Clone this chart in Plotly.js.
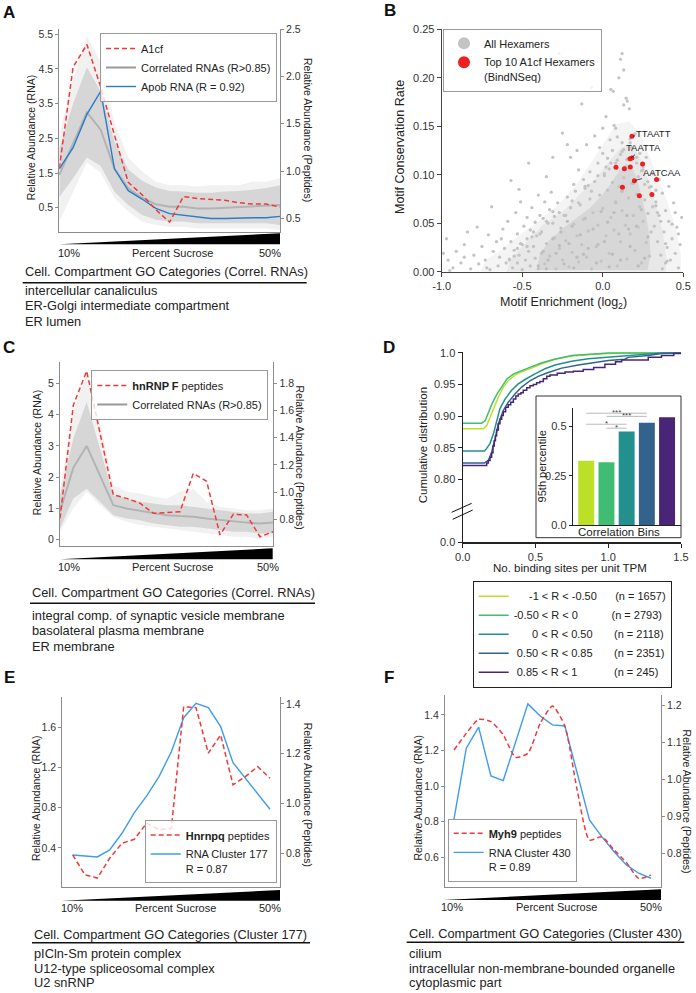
<!DOCTYPE html>
<html><head><meta charset="utf-8">
<script src="https://cdn.plot.ly/plotly-3.0.1.min.js"></script>
<style>html,body{margin:0;padding:0;background:#fff}#chart{width:696px;height:993px}</style>
</head><body><div id="chart"></div>
<script>
// ===================== DATA =====================
const fractionNo = [1,2,3,4,5,6,7,8,9,10,11,12,13,14,15,16,17];

// Panel A
const a1cfPeptides = [1.03,2.10,2.34,1.89,1.38,0.88,0.75,0.59,0.46,0.73,0.71,0.70,0.69,0.665,0.65,0.65,0.62];
const apobRNA = [1.62,2.23,3.19,3.85,1.62,0.99,0.75,0.48,0.33,0.29,0.24,0.19,0.19,0.21,0.21,0.21,0.25];
const corrA_outerHi = [2.60,4.20,5.45,4.70,2.95,1.95,1.55,1.25,1.15,1.15,1.11,1.15,1.15,1.15,1.25,1.25,1.35];
const corrA_coreHi  = [2.20,3.50,4.55,3.85,2.40,1.60,1.28,1.08,0.98,0.97,0.93,0.93,0.97,0.98,1.02,1.07,1.15];
const corrA_coreLo  = [0.80,1.35,1.95,1.70,0.96,0.58,0.29,0.15,0.10,0.10,0.05,0.05,0.05,0.05,0.05,0.05,0.00];
const corrA_outerLo = [0.10,0.96,1.80,1.50,0.77,0.39,0.10,0.00,-0.05,-0.05,-0.10,-0.10,-0.10,-0.10,-0.10,-0.10,-0.14];
const corrA_typical = [1.45,2.35,3.25,2.75,1.62,1.06,0.78,0.60,0.53,0.53,0.48,0.48,0.50,0.50,0.53,0.55,0.58];

// Panel B
const hexFarLeftX = [-0.99,-0.97,-0.96,-0.95,-0.93,-0.91,-0.88,-0.86,-0.86,-0.84,-0.82,-0.80,-0.78,-0.77,-0.75,-0.73,-0.72,-0.71,-0.70,-0.69,-0.68,-0.66,-0.65,-0.64,-0.63,-0.62,-0.61,-0.60];
const hexFarLeftY = [0.019,0.034,0.012,0.001,0.004,0.021,0.009,0.028,0.015,0.041,0.003,0.017,0.046,0.008,0.026,0.012,0.004,0.038,0.002,0.067,0.021,0.031,0.006,0.015,0.034,0.044,0.024,0.009];
const hexLeftX = [-0.59,-0.58,-0.57,-0.57,-0.56,-0.55,-0.54,-0.53,-0.53,-0.52,-0.52,-0.51,-0.50,-0.50,-0.49,-0.48,-0.47,-0.47,-0.46,-0.46,-0.45,-0.45,-0.44,-0.43,-0.42,-0.42,-0.41,-0.40,-0.40,-0.39,-0.38,-0.36,-0.35,-0.33,-0.31,-0.27,-0.25];
const hexLeftY = [0.052,0.013,0.031,0.094,0.004,0.022,0.061,0.009,0.039,0.017,0.085,0.072,0.028,0.002,0.047,0.012,0.034,0.056,0.021,0.112,0.006,0.043,0.066,0.026,0.014,0.051,0.037,0.079,0.003,0.058,0.019,0.072,0.098,0.064,0.118,0.225,0.143];
const hexUpperX = [0.12,0.11,0.10,0.13,-0.07,0.05,0.065,0.145,0.152,-0.13,0.13,0.165,0.02,0.0,0.07,0.08,-0.16,0.045,-0.2,-0.1,-0.05,0.09,0.12,0.2,0.23,0.18,0.0,-0.03,0.03,0.06,0.11,0.15,0.21,0.25,0.27,-0.15,-0.08,0.04,-0.12,0.28,0.31,0.3,-0.22,-0.18,0.17,-0.02,0.08,0.14,0.22,0.26];
const hexUpperY = [0.225,0.219,0.200,0.208,0.190,0.188,0.186,0.179,0.176,0.173,0.172,0.168,0.160,0.148,0.151,0.148,0.125,0.136,0.118,0.131,0.140,0.139,0.133,0.142,0.122,0.128,0.122,0.112,0.117,0.125,0.121,0.116,0.112,0.105,0.118,0.105,0.103,0.106,0.095,0.093,0.101,0.088,0.131,0.090,0.137,0.128,0.112,0.108,0.098,0.090];
const hexRightX = [0.33,0.35,0.37,0.38,0.39,0.40,0.41,0.42,0.43,0.44,0.45,0.46,0.47,0.48,0.49,0.36,0.34,0.32,0.45,0.41,0.37,0.43,0.39,0.47,0.35,0.33];
const hexRightY = [0.072,0.058,0.081,0.041,0.063,0.025,0.052,0.012,0.034,0.071,0.019,0.046,0.004,0.028,0.056,0.017,0.031,0.047,0.061,0.088,0.003,0.049,0.009,0.039,0.095,0.084];
const hexCoreX = [-0.38,-0.36,-0.35,-0.34,-0.33,-0.31,-0.30,-0.29,-0.28,-0.27,-0.26,-0.25,-0.24,-0.23,-0.22,-0.21,-0.20,-0.19,-0.18,-0.17,-0.16,-0.15,-0.14,-0.13,-0.12,-0.11,-0.10,-0.09,-0.08,-0.07,-0.06,-0.05,-0.04,-0.03,-0.02,-0.01,0.00,0.01,0.02,0.03,0.04,0.05,0.06,0.07,0.08,0.09,0.10,0.11,0.12,0.13,0.14,0.15,0.16,0.17,0.18,0.19,0.20,0.21,0.22,0.23,0.24,0.25,0.26,0.27,0.28,0.29,0.30,0.31,-0.37,-0.32];
const hexCoreY = [0.041,0.008,0.029,0.050,0.016,0.062,0.035,0.003,0.071,0.024,0.045,0.012,0.058,0.032,0.077,0.005,0.066,0.020,0.049,0.083,0.037,0.010,0.069,0.028,0.054,0.088,0.015,0.042,0.075,0.003,0.061,0.093,0.026,0.048,0.079,0.011,0.065,0.099,0.037,0.084,0.019,0.056,0.092,0.043,0.071,0.006,0.088,0.031,0.063,0.097,0.048,0.013,0.076,0.039,0.091,0.058,0.022,0.080,0.046,0.067,0.009,0.052,0.074,0.030,0.060,0.016,0.041,0.067,0.055,0.082];
const hexEdgeX = [-0.58,-0.55,-0.51,-0.47,-0.43,-0.39,-0.35,-0.31,-0.27,-0.23,-0.19,-0.15,-0.11,-0.07,-0.03,0.01,0.05,0.09,0.13,0.17,0.21,0.25,0.29,0.33,0.36,0.39,-0.53,-0.44,-0.30,-0.20,-0.09,0.02,0.12,0.24,0.34,0.40];
const hexEdgeY = [0.012,0.016,0.029,0.026,0.041,0.039,0.052,0.050,0.061,0.058,0.073,0.071,0.086,0.083,0.099,0.101,0.112,0.115,0.126,0.133,0.118,0.108,0.087,0.068,0.052,0.029,0.024,0.036,0.057,0.066,0.089,0.108,0.124,0.104,0.061,0.011];
const hexDenseX = [-0.40,-0.37,-0.34,-0.31,-0.29,-0.26,-0.24,-0.21,-0.19,-0.16,-0.14,-0.11,-0.09,-0.06,-0.04,-0.01,0.01,0.03,0.06,0.08,0.10,0.12,0.15,0.17,0.19,0.21,0.24,0.26,0.28,-0.35,-0.27,-0.18,-0.12,-0.03,0.04,0.11,0.16,0.22,-0.22,0.07];
const hexDenseY = [0.006,0.021,0.012,0.034,0.019,0.041,0.008,0.029,0.047,0.015,0.038,0.055,0.024,0.044,0.009,0.062,0.031,0.051,0.018,0.072,0.039,0.083,0.058,0.026,0.091,0.047,0.064,0.014,0.036,0.003,0.027,0.004,0.018,0.028,0.005,0.012,0.044,0.006,0.052,0.061];
const hexOuterRegionX = [-0.763,-0.722,-0.619,-0.515,-0.392,-0.268,-0.165,-0.082,0.0,0.082,0.165,0.237,0.309,0.392,0.454,0.485,0.485];
const hexOuterRegionY = [0,0.012,0.024,0.038,0.053,0.0707,0.0897,0.110,0.131,0.152,0.155,0.141,0.110,0.0759,0.0448,0.0172,0];
const hexMidRegionX = [-0.598,-0.567,-0.474,-0.371,-0.247,-0.144,-0.041,0.041,0.113,0.175,0.227,0.278,0.330,0.371,0.392,0.392];
const hexMidRegionY = [0,0.0138,0.031,0.0483,0.062,0.0793,0.0966,0.114,0.128,0.131,0.119,0.0966,0.069,0.0414,0.0172,0];
const hexCoreRegionX = [-0.412,-0.392,-0.330,-0.247,-0.165,-0.082,-0.021,0.031,0.072,0.113,0.148,0.181,0.210,0.239,0.268,0.289,0.297,0.278];
const hexCoreRegionY = [0.0017,0.0172,0.0328,0.0448,0.0552,0.0655,0.0759,0.0862,0.0966,0.1062,0.111,0.1086,0.0966,0.0793,0.0586,0.0379,0.0172,0.0017];
const top10X = [0.181,0.169,0.181,0.082,0.134,0.171,0.247,0.196,0.334,0.122,0.227,0.305];
const top10Y = [0.1397,0.1166,0.1172,0.1076,0.1062,0.1079,0.111,0.0938,0.0952,0.0872,0.0783,0.0797];
const motifLabels = ['TTAATT','TAATTA','AATCAA'];
const motifX = [0.181,0.169,0.196];
const motifY = [0.1397,0.1166,0.0938];

// Panel C
const hnrnpfPeptides = [0.807,1.64,1.89,1.43,0.98,0.954,0.918,0.844,0.849,0.856,1.138,1.08,0.685,0.837,0.832,0.672,0.709];
const corrC_outerHi = [1.63,4.09,5.27,3.77,1.74,1.53,1.47,1.37,1.31,1.53,1.63,1.21,1.05,0.99,0.94,0.94,0.99];
const corrC_coreHi  = [1.42,3.24,4.41,2.92,1.42,1.31,1.21,1.15,1.10,1.10,1.05,0.99,0.94,0.89,0.83,0.83,0.89];
const corrC_coreLo  = [0.35,1.31,1.63,1.21,0.78,0.67,0.62,0.51,0.46,0.41,0.41,0.35,0.30,0.25,0.25,0.19,0.19];
const corrC_outerLo = [0.25,0.99,1.53,1.10,0.72,0.57,0.46,0.41,0.35,0.30,0.25,0.19,0.14,0.09,0.09,0.03,0.09];
const corrC_typical = [0.90,2.30,3.00,2.05,1.10,0.99,0.92,0.83,0.78,0.75,0.73,0.67,0.62,0.57,0.54,0.51,0.54];

// Panel D
const binLabels = ['-1 < R < -0.50','-0.50 < R < 0','0 < R < 0.50','0.50 < R < 0.85','0.85 < R < 1'];
const binN = [1657,2793,2118,2351,245];
const cdfX1 = [0,0.142,0.165,0.188,0.217,0.245,0.279,0.313,0.359,0.405,0.473,0.542,0.634,0.748,0.863,1.0,1.206,1.5];
const cdfY1 = [0.880,0.880,0.885,0.898,0.914,0.930,0.946,0.956,0.965,0.970,0.976,0.983,0.990,0.995,0.997,0.999,1.0,1.0];
const cdfX2 = [0,0.13,0.155,0.178,0.2,0.235,0.27,0.305,0.35,0.4,0.47,0.54,0.63,0.75,0.86,1.0,1.5];
const cdfY2 = [0.889,0.889,0.893,0.906,0.919,0.935,0.948,0.959,0.967,0.972,0.978,0.984,0.990,0.996,0.998,1.0,1.0];
const cdfX3 = [0,0.15,0.165,0.188,0.211,0.233,0.256,0.291,0.336,0.382,0.428,0.497,0.565,0.634,0.748,0.863,0.977,1.092,1.229,1.366,1.5];
const cdfY3 = [0.845,0.845,0.849,0.857,0.872,0.893,0.912,0.927,0.941,0.951,0.958,0.967,0.975,0.981,0.987,0.991,0.993,0.996,0.998,1.0,1.0];
const cdfX4 = [0,0.15,0.176,0.199,0.222,0.245,0.279,0.313,0.359,0.405,0.462,0.519,0.588,0.680,0.794,0.908,1.0,1.114,1.137,1.275,1.366,1.5];
const cdfY4 = [0.826,0.826,0.830,0.843,0.864,0.888,0.909,0.922,0.935,0.946,0.956,0.963,0.969,0.976,0.981,0.985,0.988,0.990,0.993,0.996,0.999,1.0];
const cdfX5 = [0,0.165,0.176,0.188,0.199,0.208,0.217,0.225,0.233,0.245,0.256,0.268,0.279,0.295,0.313,0.33,0.348,0.365,0.382,0.4,0.416,0.44,0.462,0.485,0.508,0.53,0.554,0.578,0.6,0.65,0.703,0.76,0.828,0.9,0.977,1.05,1.092,1.137,1.275,1.366,1.45,1.5];
const cdfY5 = [0.822,0.826,0.830,0.835,0.842,0.853,0.861,0.869,0.878,0.888,0.895,0.901,0.907,0.914,0.918,0.922,0.927,0.932,0.935,0.937,0.941,0.945,0.948,0.950,0.953,0.955,0.959,0.963,0.965,0.968,0.970,0.971,0.974,0.977,0.982,0.986,0.989,0.989,0.993,0.996,0.999,1.0];
const binIndex = [0,1,2,3,4];
const pct95 = [0.327,0.319,0.475,0.520,0.548];
const sigFrom = [0,1,0,1];
const sigTo = [3,3,2,2];
const sigStars = ['***','***','*','*'];

// Panel E
const hnrnpqPeptides = [0.793,0.713,0.700,0.780,0.840,0.856,0.921,0.894,0.900,1.389,1.385,1.202,1.275,1.075,1.108,1.148,1.101];
const cluster177RNA = [0.330,0.323,0.311,0.380,0.546,0.751,0.917,1.109,1.357,1.695,1.838,1.795,1.606,1.248,1.093,0.937,0.785];

// Panel F
const myh9Peptides = [1.080,1.125,1.163,1.157,1.121,1.060,1.071,1.152,1.199,1.145,0.972,0.836,0.845,0.809,0.775,0.732,0.741];
const cluster430RNA = [0.814,1.213,1.331,1.057,1.031,1.244,1.462,1.394,1.344,1.338,1.072,0.810,0.716,0.631,0.557,0.510,0.482];

// GO text
const goTitleA = 'Cell. Compartment GO Categories (Correl. RNAs)';
const goTermsA = ['intercellular canaliculus','ER-Golgi intermediate compartment','ER lumen'];
const goTitleC = 'Cell. Compartment GO Categories (Correl. RNAs)';
const goTermsC = ['integral comp. of synaptic vesicle membrane','basolateral plasma membrane','ER membrane'];
const goTitleE = 'Cell. Compartment GO Categories (Cluster 177)';
const goTermsE = ['pICln-Sm protein complex','U12-type spliceosomal complex','U2 snRNP'];
const goTitleF = 'Cell. Compartment GO Categories (Cluster 430)';
const goTermsF = ['cilium','intracellular non-membrane-bounded organelle','cytoplasmic part'];

// ===================== BUILD =====================
const W = 696, H = 993;
const X = p => p / W;
const Y = p => 1 - p / H;
const FONT = '"Liberation Sans", Arial, Helvetica, sans-serif';
const RED = '#f03a3a';
const redLine = {color: RED, width: 1.5, dash: '5px,3px'};
const esc = s => s.replace(/</g, '&lt;').replace(/>/g, '&gt;');

const traces = [];
function addBand(xs, hi, lo, color, xa, ya) {
  traces.push({type:'scatter', mode:'lines', x: xs.concat(xs.slice().reverse()), y: hi.concat(lo.slice().reverse()),
    fill:'toself', fillcolor: color, line:{width:0, color: color}, hoverinfo:'skip', showlegend:false, xaxis:xa, yaxis:ya});
}
function addRegion(xs, ys, color, xa, ya) {
  traces.push({type:'scatter', mode:'lines', x: xs, y: ys, fill:'toself', fillcolor: color,
    line:{width:0, color: color}, xaxis: xa, yaxis: ya, showlegend:false, hoverinfo:'skip'});
}
const CORE = 'rgba(196,196,196,0.6)';

// A
addBand(fractionNo, corrA_outerHi, corrA_outerLo, '#f1f1f1', 'x', 'y');
traces.push({type:'scatter', mode:'lines', x: fractionNo, y: corrA_typical, name: esc('Correlated RNAs (R>0.85)'),
  line:{color:'#999999', width:2}, xaxis:'x', yaxis:'y', legend:'legend', legendrank:2, hoverinfo:'skip'});
addBand(fractionNo, corrA_coreHi, corrA_coreLo, CORE, 'x', 'y');
traces.push({type:'scatter', mode:'lines', x: fractionNo, y: apobRNA, name:'Apob RNA (R = 0.92)',
  line:{color:'#2b7cc8', width:1.4}, xaxis:'x', yaxis:'y', legend:'legend', legendrank:3, hoverinfo:'skip'});
traces.push({type:'scatter', mode:'lines', x: fractionNo, y: a1cfPeptides, name:'A1cf',
  line: redLine, xaxis:'x', yaxis:'y2', legend:'legend', legendrank:1, hoverinfo:'skip'});

// B
addRegion(hexOuterRegionX, hexOuterRegionY, '#f4f4f4', 'x2', 'y3');
addRegion(hexMidRegionX, hexMidRegionY, '#e8e8e8', 'x2', 'y3');
addRegion(hexCoreRegionX, hexCoreRegionY, '#d7d7d7', 'x2', 'y3');
traces.push({type:'scatter', mode:'markers', x: hexDenseX, y: hexDenseY, marker:{size:3.3, color:'#bdbdbd'},
  xaxis:'x2', yaxis:'y3', showlegend:false, hoverinfo:'skip'});
const hexX = [].concat(hexFarLeftX, hexLeftX, hexUpperX, hexRightX, hexCoreX, hexEdgeX);
const hexY = [].concat(hexFarLeftY, hexLeftY, hexUpperY, hexRightY, hexCoreY, hexEdgeY);
traces.push({type:'scatter', mode:'markers', x: hexX, y: hexY, name:'All Hexamers',
  marker:{size:3.3, color:'#c4c4c4'}, xaxis:'x2', yaxis:'y3', legend:'legend2', legendrank:1, hoverinfo:'skip'});
traces.push({type:'scatter', mode:'markers', x: top10X, y: top10Y, name:'Top 10 A1cf Hexamers<br>(BindNSeq)',
  marker:{size:5, color:'#ee1f1f'}, xaxis:'x2', yaxis:'y3', legend:'legend2', legendrank:2, hoverinfo:'skip'});

// C
addBand(fractionNo, corrC_outerHi, corrC_outerLo, '#f1f1f1', 'x3', 'y4');
traces.push({type:'scatter', mode:'lines', x: fractionNo, y: corrC_typical, name: esc('Correlated RNAs (R>0.85)'),
  line:{color:'#999999', width:2}, xaxis:'x3', yaxis:'y4', legend:'legend3', legendrank:2, hoverinfo:'skip'});
addBand(fractionNo, corrC_coreHi, corrC_coreLo, CORE, 'x3', 'y4');
traces.push({type:'scatter', mode:'lines', x: fractionNo, y: hnrnpfPeptides, name:'<b>hnRNP F</b> peptides',
  line: redLine, xaxis:'x3', yaxis:'y5', legend:'legend3', legendrank:1, hoverinfo:'skip'});

// D
const binColors = ['#bcdf27','#40bd72','#22908c','#33628d','#482576'];
const cdfXs = [cdfX1, cdfX2, cdfX3, cdfX4, cdfX5];
const cdfYs = [cdfY1, cdfY2, cdfY3, cdfY4, cdfY5];
const padL = [5,0,6,1,1], padM = [6,11,7,7,12];
const nb = n => '\u00a0'.repeat(n);
for (let i = 0; i < 5; i++) {
  traces.push({type:'scatter', mode:'lines', x: cdfXs[i], y: cdfYs[i],
    name: nb(padL[i]) + esc(binLabels[i]) + nb(padM[i]) + '(n = ' + binN[i] + ')',
    line:{color: binColors[i], width:1.5, shape: i === 4 ? 'hv' : 'linear'},
    xaxis:'x4', yaxis:'y6', legend:'legend4', legendrank: i + 1, hoverinfo:'skip'});
}
traces.push({type:'bar', x: binIndex, y: pct95, width:0.79, marker:{color: binColors, line:{width:0}},
  xaxis:'x5', yaxis:'y7', showlegend:false, hoverinfo:'skip'});

// E
traces.push({type:'scatter', mode:'lines', x: fractionNo, y: cluster177RNA, name:'RNA Cluster 177<br>R = 0.87',
  line:{color:'#3d9cf0', width:1.4}, xaxis:'x6', yaxis:'y8', legend:'legend5', legendrank:2, hoverinfo:'skip'});
traces.push({type:'scatter', mode:'lines', x: fractionNo, y: hnrnpqPeptides, name:'<b>Hnrnpq</b> peptides',
  line: redLine, xaxis:'x6', yaxis:'y9', legend:'legend5', legendrank:1, hoverinfo:'skip'});

// F
traces.push({type:'scatter', mode:'lines', x: fractionNo, y: cluster430RNA, name:'RNA Cluster 430<br>R = 0.89',
  line:{color:'#3d9cf0', width:1.4}, xaxis:'x7', yaxis:'y10', legend:'legend6', legendrank:2, hoverinfo:'skip'});
traces.push({type:'scatter', mode:'lines', x: fractionNo, y: myh9Peptides, name:'<b>Myh9</b> peptides',
  line: Object.assign({}, redLine, {shape:'spline', smoothing:0.6}), xaxis:'x7', yaxis:'y11', legend:'legend6', legendrank:1, hoverinfo:'skip'});

// ---------- axes ----------
const GRAY = '#8c8c8c', DARK = '#222';
function ax(o) {
  return Object.assign({showgrid:false, zeroline:false, showline:true, linewidth:1, linecolor:GRAY,
    ticks:'outside', ticklen:3, tickwidth:1, tickcolor:GRAY, layer:'above traces',
    tickfont:{family:FONT, size:10.5, color:'#333'}, fixedrange:true}, o);
}
const noTicks = {ticks:'', showticklabels:false};
const fmt = (v, d) => v.map(t => t.toFixed(d));

const layout = {
  width: W, height: H, margin:{l:0, r:0, t:0, b:0},
  paper_bgcolor:'#ffffff', plot_bgcolor:'rgba(0,0,0,0)',
  font:{family: FONT, size:11, color:'#222'},
  showlegend: true,
  xaxis: ax(Object.assign({domain:[X(59.3), X(280)], range:[1,17], anchor:'y'}, noTicks)),
  yaxis: ax({domain:[Y(232), Y(29)], range:[-0.2,5.65], anchor:'x', tickvals:[0.5,1.5,2.5,3.5,4.5,5.5], ticktext: fmt([0.5,1.5,2.5,3.5,4.5,5.5],1)}),
  yaxis2: ax({overlaying:'y', side:'right', anchor:'x', range:[0.355,2.503], tickvals:[0.5,1,1.5,2,2.5], ticktext: fmt([0.5,1,1.5,2,2.5],1)}),
  xaxis2: ax({domain:[X(441.7), X(683.3)], range:[-1,0.5], anchor:'y3', linecolor:'#444', tickcolor:'#444', ticklen:4,
    tickvals:[-1,-0.5,0,0.5], ticktext:['-1.0','-0.5','0.0','0.5'], tickfont:{family:FONT, size:11, color:'#333'}}),
  yaxis3: ax({domain:[Y(271.7), Y(29.3)], range:[0,0.25], anchor:'x2', linecolor:'#444', tickcolor:'#444', ticklen:4,
    tickvals:[0,0.05,0.1,0.15,0.2,0.25], ticktext: fmt([0,0.05,0.1,0.15,0.2,0.25],2), tickfont:{family:FONT, size:11, color:'#333'}}),
  xaxis3: ax(Object.assign({domain:[X(60), X(273.3)], range:[1,17], anchor:'y4'}, noTicks)),
  yaxis4: ax({domain:[Y(545.7), Y(361.7)], range:[-0.2,5.7], anchor:'x3', tickvals:[0,1,2,3,4,5]}),
  yaxis5: ax({overlaying:'y4', side:'right', anchor:'x3', range:[0.606,1.959], tickvals:[0.8,1.0,1.2,1.4,1.6,1.8], ticktext: fmt([0.8,1.0,1.2,1.4,1.6,1.8],1)}),
  xaxis4: ax({domain:[X(462.7), X(681)], range:[0,1.5], anchor:'y6', linecolor:DARK, tickcolor:DARK, linewidth:1.2, ticklen:4,
    tickvals:[0,0.5,1,1.5], ticktext:['0.0','0.5','1.0','1.5'], tickfont:{family:FONT, size:11, color:'#333'}}),
  yaxis6: ax({domain:[Y(542.3), Y(352)], range:[0.7005,1.0015], anchor:'x4', linecolor:DARK, tickcolor:DARK, linewidth:1.2, ticklen:4,
    tickvals:[0.7008,0.8,0.85,0.9,0.95,1.0], ticktext:['0.0','0.80','0.85','0.90','0.95','1.0'], tickfont:{family:FONT, size:11, color:'#333'}}),
  xaxis5: ax(Object.assign({domain:[X(572.7), X(681)], range:[-0.67,4.69], anchor:'y7', linecolor:DARK}, noTicks)),
  yaxis7: ax({domain:[Y(525), Y(408.3)], range:[0,0.593], anchor:'x5', linecolor:DARK, tickcolor:DARK, ticklen:3,
    tickvals:[0,0.25,0.5], ticktext:['0.0','0.25','0.5'], tickfont:{family:FONT, size:11, color:'#333'}}),
  xaxis6: ax(Object.assign({domain:[X(62.3), X(280)], range:[0.16,17.81], anchor:'y8'}, noTicks)),
  yaxis8: ax({domain:[Y(887.3), Y(696.7)], range:[0.009,1.904], anchor:'x6', tickvals:[0.4,0.8,1.2,1.6], ticktext: fmt([0.4,0.8,1.2,1.6],1)}),
  yaxis9: ax({overlaying:'y8', side:'right', anchor:'x6', range:[0.663,1.429], tickvals:[0.8,1.0,1.2,1.4], ticktext: fmt([0.8,1.0,1.2,1.4],1)}),
  xaxis7: ax(Object.assign({domain:[X(445), X(661)], range:[0.27,17.81], anchor:'y10'}, noTicks)),
  yaxis10: ax({domain:[Y(887.3), Y(695)], range:[0.431,1.512], anchor:'x7', tickvals:[0.6,0.8,1.0,1.2,1.4], ticktext: fmt([0.6,0.8,1.0,1.2,1.4],1)}),
  yaxis11: ax({overlaying:'y10', side:'right', anchor:'x7', range:[0.708,1.229], tickvals:[0.8,0.9,1.0,1.1,1.2], ticktext: fmt([0.8,0.9,1.0,1.1,1.2],1)}),
};

// ---------- legends ----------
function leg(o) {
  return Object.assign({bgcolor:'rgba(255,255,255,0.8)', bordercolor:'#999', borderwidth:1,
    font:{family:FONT, size:11, color:'#222'}, tracegroupgap:0, itemwidth:30, traceorder:'normal'}, o);
}
layout.legend  = leg({x:X(277), y:Y(33), xanchor:'right', yanchor:'top'});
layout.legend2 = leg({x:X(443), y:Y(28.5), xanchor:'left', yanchor:'top', itemsizing:'constant', valign:'top'});
layout.legend3 = leg({x:X(268.3), y:Y(370), xanchor:'right', yanchor:'top'});
layout.legend4 = leg({x:X(472.7), y:Y(580.7), xanchor:'left', yanchor:'top', bordercolor:'#222'});
layout.legend5 = leg({x:X(276.7), y:Y(883.3), xanchor:'right', yanchor:'bottom', valign:'top'});
layout.legend6 = leg({x:X(447.7), y:Y(881.7), xanchor:'left', yanchor:'bottom', valign:'top'});

// ---------- annotations ----------
const annotations = [];
function txt(text, x, y, o) {
  o = o || {};
  annotations.push({text: text, xref:'paper', yref:'paper', x: X(x), y: Y(y), showarrow:false,
    xanchor: o.xanchor || 'center', yanchor: o.yanchor || 'middle', textangle: o.angle || 0,
    font:{family:FONT, size: o.size || 11, color: o.color || '#222'}});
}
[['A',9,12.5],['B',390,11],['C',9,347.5],['D',389,347.5],['E',9,677.5],['F',389,677.5]].forEach(p =>
  txt('<b>' + p[0] + '</b>', p[1], p[2], {size:17, color:'#111'}));
txt('Relative Abundance (RNA)', 31.7, 137.5, {angle:-90, size:10.5});
txt('Relative Abundance (Peptides)', 308, 130, {angle:90, size:10.5});
txt('Motif Conservation Rate', 399.3, 146.7, {angle:-90, size:12.5});
txt('Motif Enrichment (log<sub>2</sub>)', 563.3, 303.3, {size:12.5});
txt('Relative Abundance (RNA)', 36.7, 452.5, {angle:-90, size:10.5});
txt('Relative Abundance (Peptides)', 300, 457.5, {angle:90, size:10.5});
txt('Cumulative distribution', 423.3, 445, {angle:-90, size:11.5});
txt('No. binding sites per unit TPM', 570, 568.3, {size:11.5});
txt('95th percentile', 541.7, 466.7, {angle:-90, size:11});
txt('Correlation Bins', 619.3, 531.7, {size:11.5});
txt('Relative Abundance (RNA)', 36.7, 798.3, {angle:-90, size:10.5});
txt('Relative Abundance (Peptides)', 308.3, 795, {angle:90, size:10.5});
txt('Relative Abundance (RNA)', 418.3, 798.3, {angle:-90, size:10.5});
txt('Relative Abundance (Peptides)', 687.3, 801.7, {angle:90, size:10.5});
[[69,172,270,253.3],[69,172.7,267.5,566.7],[71.7,175,270,907.7],[452,556.3,650.8,906.7]].forEach(r => {
  txt('10%', r[0], r[3], {size:11}); txt('Percent Sucrose', r[1], r[3], {size:11}); txt('50%', r[2], r[3], {size:11});
});
const goBlocks = [
  {title: goTitleA, terms: goTermsA, left:22.7, right:306.7, ty:271.7, ly:282.7, rows:[290,305.5,321]},
  {title: goTitleC, terms: goTermsC, left:30, right:315, ty:592.7, ly:603.3, rows:[615,630.7,646]},
  {title: goTitleE, terms: goTermsE, left:32, right:310, ty:934.3, ly:942.7, rows:[953.3,968.3,982.7]},
  {title: goTitleF, terms: goTermsF, left:406.7, right:684.3, ty:933.3, ly:942.3, rows:[953,968,982]},
];
const shapes = [];
goBlocks.forEach(b => {
  txt(b.title, b.left, b.ty, {xanchor:'left', size:12.8});
  b.terms.forEach((t, i) => txt(t, b.left, b.rows[i], {xanchor:'left', size:12.8}));
  shapes.push({type:'line', xref:'paper', yref:'paper', x0:X(b.left), x1:X(b.right), y0:Y(b.ly), y1:Y(b.ly), line:{color:'#111', width:1.6}});
});
[[59.3,280,233.3,244.3],[60,272.7,548.3,559.3],[61.7,280,890,900.7],[443.3,661,889.3,900]].forEach(w => {
  shapes.push({type:'path', xref:'paper', yref:'paper',
    path:'M' + X(w[0]) + ',' + Y(w[3]) + ' L' + X(w[1]) + ',' + Y(w[2]) + ' L' + X(w[1]) + ',' + Y(w[3]) + ' Z',
    fillcolor:'#000', line:{width:0}});
});
shapes.push({type:'rect', xref:'paper', yref:'paper', x0:X(536), x1:X(681), y0:Y(537.7), y1:Y(396), line:{color:'#333', width:1}, fillcolor:'rgba(0,0,0,0)'});
shapes.push({type:'line', xref:'paper', yref:'paper', x0:X(451.7), y0:Y(512.3), x1:X(471.7), y1:Y(503.3), line:{color:'#111', width:1}});
shapes.push({type:'line', xref:'paper', yref:'paper', x0:X(452.7), y0:Y(519.3), x1:X(472.7), y1:Y(510), line:{color:'#111', width:1}});
const sigLevel = [0.568,0.552,0.512,0.492];
for (let i = 0; i < sigFrom.length; i++) {
  shapes.push({type:'line', xref:'x5', yref:'y7', x0: sigFrom[i], x1: sigTo[i], y0: sigLevel[i], y1: sigLevel[i], line:{color:'#aaa', width:0.8}});
  annotations.push({text: sigStars[i], xref:'x5', yref:'y7', x:(sigFrom[i] + sigTo[i]) / 2, y: sigLevel[i], showarrow:false,
    yanchor:'middle', yshift:1, font:{family:FONT, size:8, color:'#444'}});
}
const motifAx = [22, 14, 28], motifAy = [-3, -11, -8];
for (let i = 0; i < motifLabels.length; i++) {
  annotations.push({text: motifLabels[i], xref:'x2', yref:'y3', x: motifX[i], y: motifY[i], showarrow:true,
    arrowhead:0, arrowwidth:0.8, arrowcolor:'#222', ax: motifAx[i], ay: motifAy[i], standoff:1,
    font:{family:FONT, size:9.5, color:'#222'}});
}
layout.annotations = annotations;
layout.shapes = shapes;

Plotly.newPlot('chart', traces, layout, {staticPlot:true, displayModeBar:false});
</script>
</body></html>
